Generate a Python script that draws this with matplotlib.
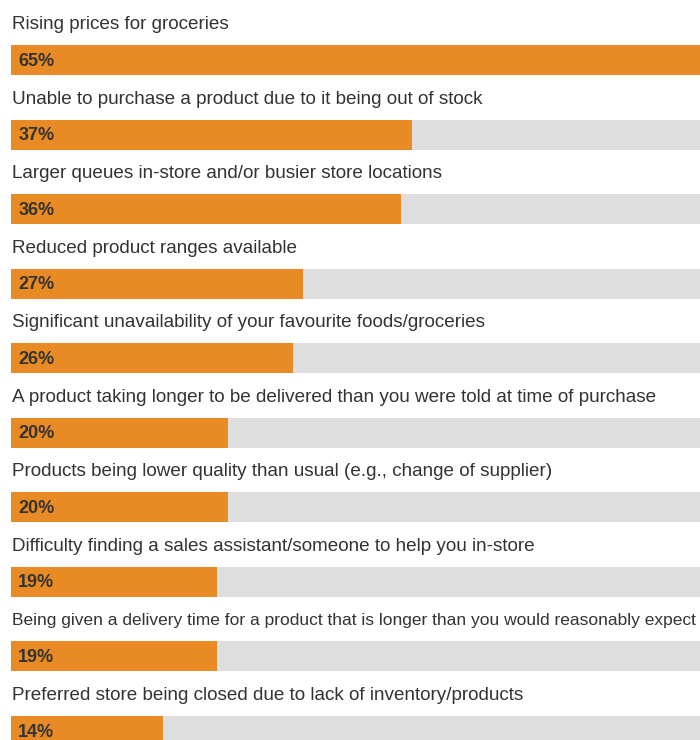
import matplotlib.pyplot as plt

categories = [
    "Rising prices for groceries",
    "Unable to purchase a product due to it being out of stock",
    "Larger queues in-store and/or busier store locations",
    "Reduced product ranges available",
    "Significant unavailability of your favourite foods/groceries",
    "A product taking longer to be delivered than you were told at time of purchase",
    "Products being lower quality than usual (e.g., change of supplier)",
    "Difficulty finding a sales assistant/someone to help you in-store",
    "Being given a delivery time for a product that is longer than you would reasonably expect",
    "Preferred store being closed due to lack of inventory/products",
]
values = [65, 37, 36, 27, 26, 20, 20, 19, 19, 14]

orange = "#E98B24"
track = "#DEDEDE"
textc = "#333333"

plt.rcParams['font.family'] = ['Liberation Sans', 'DejaVu Sans']

W, H = 700, 740
fig = plt.figure(figsize=(W / 100, H / 100), dpi=100)
left = 11
ax = fig.add_axes([left / W, 0, (W - left) / W, 1])
scale = 10.83  # pixels per percent
ax.set_xlim(0, (W - left) / scale)
ax.set_ylim(H, 0)
ax.axis('off')

step = 74.56
first = 60
centers = [first + i * step for i in range(len(values))]

ax.barh(centers, [100] * len(values), height=30, color=track, left=0)
ax.barh(centers, values, height=30, color=orange, left=0)

renderer = fig.canvas.get_renderer()
for c, lab, v in zip(centers, categories, values):
    t = ax.text(0.05, c - 31, lab, fontsize=13.6, color=textc, va='baseline', ha='left', clip_on=False)
    # shrink long labels until they stay inside the figure
    fs = 13.6
    while t.get_window_extent(renderer).x1 > W - 4 and fs > 8:
        fs -= 0.1
        t.set_fontsize(fs)
    ax.text(7.3 / scale, c + 5.5, f"{v}%", fontsize=13, fontweight='bold', color=textc,
            va='baseline', ha='left')

fig.savefig("out.png", dpi=100)
